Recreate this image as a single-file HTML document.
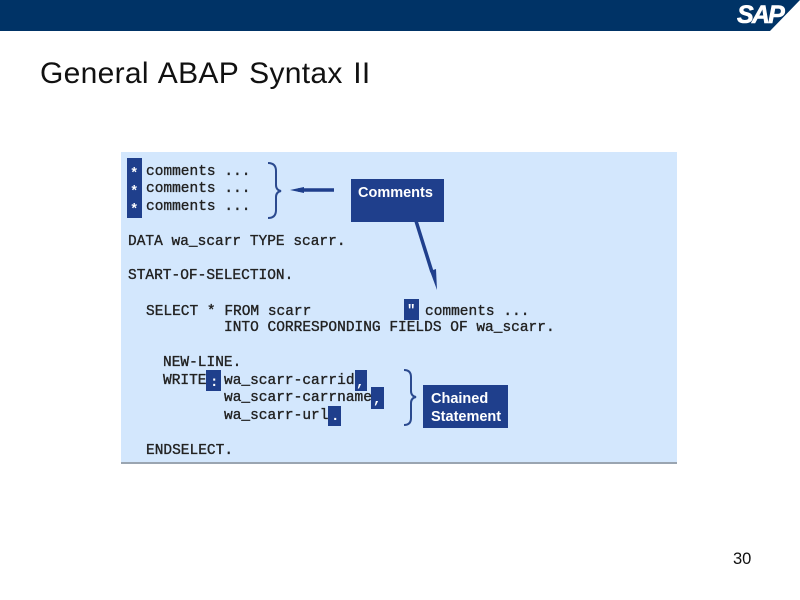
<!DOCTYPE html>
<html><head><meta charset="utf-8"><style>
html,body{margin:0;padding:0;background:#fff}
#p{position:relative;width:800px;height:600px;overflow:hidden;background:#fff}
.c{position:absolute;font:14.5px/16px "Liberation Mono",monospace;color:#222;white-space:pre;-webkit-text-stroke:.35px #222;filter:blur(.25px)}
.b{position:absolute;background:#1f3f8c}
.w{position:absolute;color:#fff;font:bold 14.5px/16px "Liberation Sans",sans-serif;white-space:pre}
.m{position:absolute;color:#fff;font:bold 14px/14px "Liberation Mono",monospace}
</style></head><body><div id="p">
<div style="position:absolute;left:0;top:0;width:800px;height:31px;background:#003366"></div>
<svg style="position:absolute;left:0;top:0" width="800" height="600">
<polygon points="770,31 800,0 800,31" fill="#fff"/>
</svg>
<div style="position:absolute;left:737px;top:0;font:italic bold 25px/30px 'Liberation Sans',sans-serif;color:#fff;letter-spacing:-1.8px;-webkit-text-stroke:.6px #fff">SAP</div>
<div style="position:absolute;left:40px;top:57px;font:30px/34px 'Liberation Sans',sans-serif;color:#111;letter-spacing:.3px;word-spacing:2px;white-space:pre">General ABAP Syntax II</div>
<div style="position:absolute;left:121px;top:152px;width:556px;height:310px;background:#d3e7fd;border-bottom:2px solid #9aa5b1"></div>
<svg style="position:absolute;left:0;top:0" width="800" height="600">
<path d="M268 163q8 0 8 8v14q0 5 5 6q-5 1-5 6v13q0 8-8 8" fill="none" stroke="#2b4a8f" stroke-width="2"/>
<path d="M404 370q7 0 7 7v14q0 5 5 6q-5 1-5 6v15q0 7-7 7" fill="none" stroke="#2b4a8f" stroke-width="2"/>
<line x1="334" y1="190" x2="298" y2="190" stroke="#1f3f8c" stroke-width="3.5"/>
<polygon points="290,190 304,187 304,193" fill="#1f3f8c"/>
<line x1="416" y1="221" x2="432" y2="272" stroke="#1f3f8c" stroke-width="3.5"/>
<polygon points="437,290 430,271 436,269" fill="#1f3f8c"/>
</svg>
<div class="b" style="left:127px;top:158px;width:15px;height:60px"></div>
<div class="b" style="left:351px;top:179px;width:93px;height:43px"></div>
<div class="b" style="left:404px;top:299px;width:15px;height:21px"></div>
<div class="b" style="left:206px;top:370px;width:15px;height:21px"></div>
<div class="b" style="left:355px;top:370px;width:12px;height:21px"></div>
<div class="b" style="left:371px;top:387px;width:13px;height:22px"></div>
<div class="b" style="left:328px;top:406px;width:13px;height:20px"></div>
<div class="b" style="left:423px;top:385px;width:85px;height:43px"></div>
<div class="w" style="left:358px;top:185px">Comments</div>
<div class="w" style="left:431px;top:391px">Chained</div>
<div class="w" style="left:431px;top:409px">Statement</div>
<div class="m" style="left:130px;top:167px">*</div>
<div class="m" style="left:130px;top:185px">*</div>
<div class="m" style="left:130px;top:203px">*</div>
<div class="m" style="left:407px;top:304px">"</div>
<div class="m" style="left:210px;top:376px">:</div>
<div class="m" style="left:356px;top:376px">,</div>
<div class="m" style="left:373px;top:393px">,</div>
<div class="m" style="left:331px;top:410px">.</div>
<div class="c" style="left:146px;top:164px">comments ...</div>
<div class="c" style="left:146px;top:181px">comments ...</div>
<div class="c" style="left:146px;top:199px">comments ...</div>
<div class="c" style="left:128px;top:234px">DATA wa_scarr TYPE scarr.</div>
<div class="c" style="left:128px;top:268px">START-OF-SELECTION.</div>
<div class="c" style="left:146px;top:304px">SELECT * FROM scarr</div>
<div class="c" style="left:425px;top:304px">comments ...</div>
<div class="c" style="left:224px;top:320px">INTO CORRESPONDING FIELDS OF wa_scarr.</div>
<div class="c" style="left:163px;top:355px">NEW-LINE.</div>
<div class="c" style="left:163px;top:373px">WRITE</div>
<div class="c" style="left:224px;top:373px">wa_scarr-carrid</div>
<div class="c" style="left:224px;top:390px">wa_scarr-carrname</div>
<div class="c" style="left:224px;top:408px">wa_scarr-url</div>
<div class="c" style="left:146px;top:443px">ENDSELECT.</div>
<div style="position:absolute;left:733px;top:550px;font:16.5px/18px 'Liberation Sans',sans-serif;color:#111">30</div>
</div></body></html>
